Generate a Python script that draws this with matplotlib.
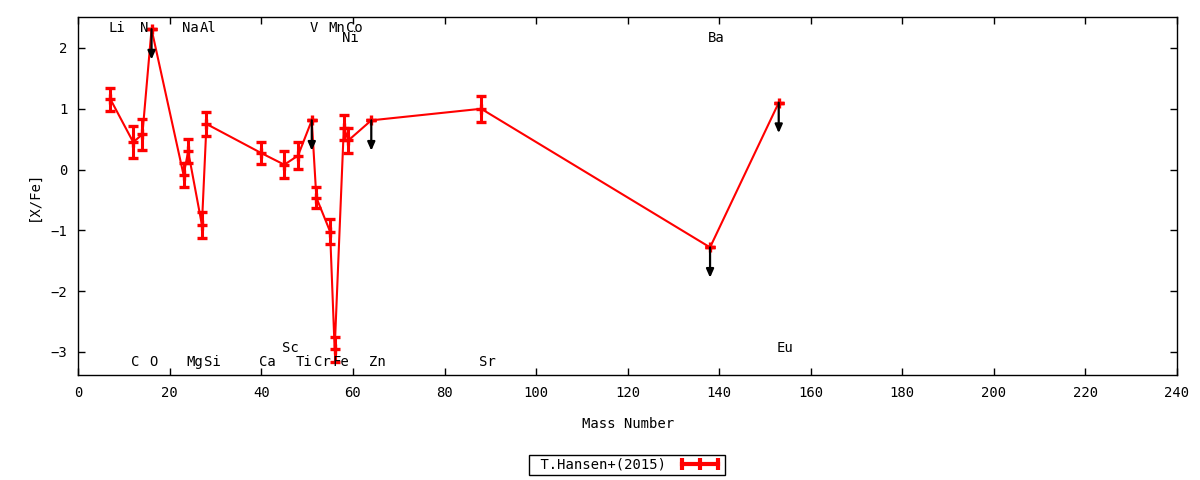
import matplotlib
matplotlib.use("Agg")
import matplotlib.pyplot as plt
from matplotlib.lines import Line2D
import numpy as np

# ---- data ----
elements = ['Li', 'C', 'N', 'O', 'Na', 'Mg', 'Al', 'Si', 'Ca', 'Sc', 'Ti',
            'V', 'Cr', 'Mn', 'Fe', 'Ni', 'Co', 'Zn', 'Sr', 'Ba', 'Eu']
mass_number = [7, 12, 14, 16, 23, 24, 27, 28, 40, 45, 48,
               51, 52, 55, 56, 58, 59, 64, 88, 138, 153]
x_fe = [1.16, 0.45, 0.58, 2.31, -0.09, 0.30, -0.91, 0.75, 0.27, 0.08, 0.23,
        0.81, -0.46, -1.02, -2.96, 0.69, 0.48, 0.81, 1.00, -1.28, 1.10]
x_fe_err = [0.19, 0.26, 0.25, 0.0, 0.19, 0.20, 0.21, 0.20, 0.18, 0.22, 0.22,
            0.0, 0.18, 0.21, 0.20, 0.21, 0.20, 0.0, 0.21, 0.0, 0.0]
upper_limit = ['O', 'V', 'Zn', 'Ba', 'Eu']
label_row = ['top', 'bottom', 'top', 'bottom', 'top', 'bottom', 'top', 'bottom',
             'bottom', 'bottom2', 'bottom', 'top', 'bottom', 'top', 'bottom',
             'top2', 'top', 'bottom', 'bottom', 'top2', 'bottom2']
series_name = 'T.Hansen+(2015)'
x_ticks = list(range(0, 241, 20))
y_ticks = [-3, -2, -1, 0, 1, 2]

# ---- layout ----
row_y = {'top': 2.33, 'top2': 2.16, 'bottom': -3.16, 'bottom2': -2.93}
arrow_len = 0.5
FONT = ['DejaVu Sans Mono']
plt.rcParams['font.family'] = FONT
plt.rcParams['font.size'] = 10

fig = plt.figure(figsize=(12, 4.8), dpi=100)
ax = fig.add_axes([78.3 / 1200, 1 - 375 / 480, (1177 - 78.3) / 1200, (375 - 17) / 480])

ax.plot(mass_number, x_fe, color='red', lw=1.5, zorder=2)
ax.errorbar(mass_number, x_fe, yerr=x_fe_err, fmt='none', ecolor='red',
            elinewidth=2.2, capsize=3.8, capthick=2.4, zorder=3)
ax.plot(mass_number, x_fe, linestyle='none', marker='+', color='red',
        markersize=7, mew=2.4, zorder=3)

for el, m, v in zip(elements, mass_number, x_fe):
    if el in upper_limit:
        ax.annotate('', xy=(m, v - arrow_len), xytext=(m, v),
                    arrowprops=dict(arrowstyle='-|>,head_length=0.5,head_width=0.22',
                                    color='black', lw=1.6, shrinkA=0, shrinkB=0),
                    zorder=5)

for el, m, r in zip(elements, mass_number, label_row):
    ax.text(m - 0.45, row_y[r], el, ha='left', va='center', fontsize=10,
            color='black', zorder=6)

ax.set_xlim(0, 240)
ax.set_ylim(-3.38, 2.51)
ax.set_xticks(x_ticks)
ax.set_yticks(y_ticks)
ax.tick_params(direction='in', length=5, width=1, top=True, right=True,
               pad=8, labelsize=10)
for s in ax.spines.values():
    s.set_linewidth(1)
ax.set_xlabel('Mass Number', fontsize=10, labelpad=12)
ax.set_ylabel('[X/Fe]', fontsize=10, labelpad=7)

handle = Line2D([], [], color='red', lw=3, marker='|', markersize=8, mew=3)
leg = fig.legend([handle], [' ' + series_name], loc='center',
                 bbox_to_anchor=(627 / 1200, 1 - 465 / 480),
                 markerfirst=False, numpoints=3, fancybox=False,
                 edgecolor='black', framealpha=1, borderpad=0.2,
                 borderaxespad=0, handlelength=3.2, handletextpad=0.8,
                 fontsize=10)
leg.get_frame().set_linewidth(1)

fig.savefig('out.png', dpi=100)
